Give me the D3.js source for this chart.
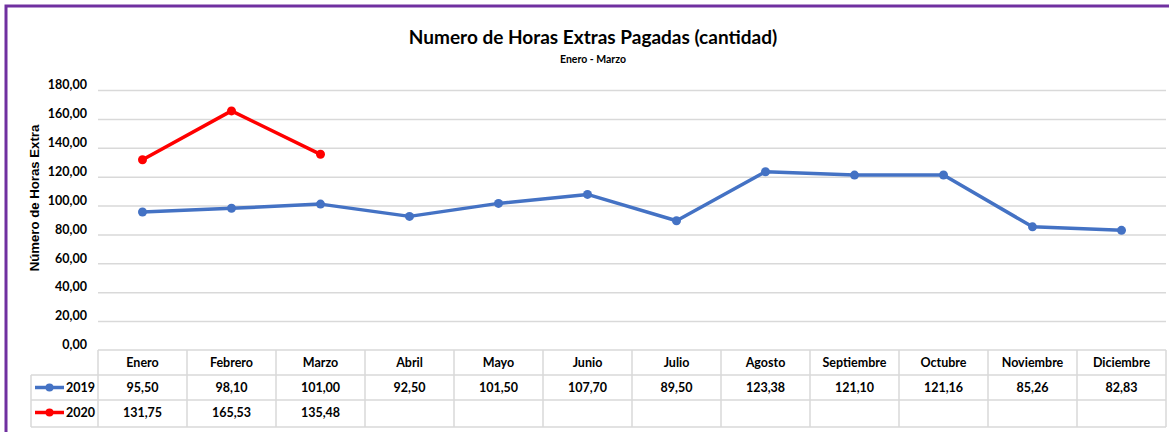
<!DOCTYPE html>
<html><head><meta charset="utf-8">
<script src="https://cdn.jsdelivr.net/npm/d3@7"></script>
<style>
html,body{margin:0;padding:0;background:#fff;}
svg{display:block;font-family:Lato,"Open Sans",sans-serif;}
</style></head>
<body><svg id="c" width="1169" height="432"></svg>
<script>
const months = ["Enero","Febrero","Marzo","Abril","Mayo","Junio","Julio","Agosto","Septiembre","Octubre","Noviembre","Diciembre"];
const values2019 = [95.50,98.10,101.00,92.50,101.50,107.70,89.50,123.38,121.10,121.16,85.26,82.83];
const values2020 = [131.75,165.53,135.48];
const yTicks = [0,20,40,60,80,100,120,140,160,180];
const seriesNames = ["2019","2020"];
const seriesColors = ["#4472C4","#FF0000"];

const svg = d3.select("#c");
const fmt = v => d3.format(".2f")(v).replace(".", ",");

// border
svg.append("rect").attr("x",6).attr("y",6).attr("width",1175).attr("height",440)
  .attr("fill","none").attr("stroke","#7030A0").attr("stroke-width",3);

const L = 98, R = 1166, T = 90, B = 350;
const x = d3.scaleBand().domain(months).range([L,R]);
const y = d3.scaleLinear().domain([0,180]).range([B,T]);

// title
svg.append("text").attr("x",593).attr("y",44).attr("text-anchor","middle")
  .attr("font-size",19).attr("font-weight","bold").attr("fill","#000")
  .text("Numero de Horas Extras Pagadas (cantidad)");
svg.append("text").attr("x",593).attr("y",63).attr("text-anchor","middle")
  .attr("font-size",10.5).attr("font-weight","bold").attr("fill","#000")
  .text("Enero - Marzo");

// gridlines
const yAxis = d3.axisLeft(y).tickValues(yTicks).tickSize(-(R-L)).tickFormat(fmt).tickPadding(11);
const gA = svg.append("g").attr("transform",`translate(${L},0)`).call(yAxis);
gA.select(".domain").remove();
gA.selectAll(".tick line").attr("stroke","#d9d9d9").attr("stroke-width",1.5);
gA.selectAll(".tick").filter(d=>d===0).select("line").remove();
gA.selectAll(".tick text").attr("font-size",12.5).attr("font-weight","bold").attr("fill","#000")
  .attr("font-family","Lato,'Open Sans',sans-serif").attr("dy","-0.1em");

// y title
svg.append("text").attr("transform",`translate(39,198) rotate(-90)`)
  .attr("text-anchor","middle").attr("font-size",13.2).attr("font-weight","bold").attr("fill","#000")
  .attr("font-family","'Liberation Sans',Arial,sans-serif")
  .text("Número de Horas Extra");

// lines
const cx = m => x(m) + x.bandwidth()/2;
const line = d3.line().x((d,i)=>cx(months[i])).y(d=>y(d));
[values2019, values2020].forEach((vals,si)=>{
  svg.append("path").datum(vals).attr("d",line).attr("fill","none")
    .attr("stroke",seriesColors[si]).attr("stroke-width",3.5).attr("stroke-linejoin","round");
  svg.selectAll(null).data(vals).enter().append("circle")
    .attr("cx",(d,i)=>cx(months[i])).attr("cy",d=>y(d)).attr("r",4.5).attr("fill",seriesColors[si]);
});

// data table
const gridC = "#d9d9d9";
const rowTop = [350,375,400,427];
const legL = 31;
const tbl = svg.append("g").attr("stroke",gridC).attr("stroke-width",1.5).attr("fill","none");
tbl.append("line").attr("x1",L).attr("x2",R).attr("y1",rowTop[0]).attr("y2",rowTop[0]);
[1,2,3].forEach(i=>tbl.append("line").attr("x1",legL).attr("x2",R).attr("y1",rowTop[i]).attr("y2",rowTop[i]));
tbl.append("line").attr("x1",legL).attr("x2",legL).attr("y1",rowTop[1]).attr("y2",rowTop[3]);
months.forEach(m=>tbl.append("line").attr("x1",x(m)).attr("x2",x(m)).attr("y1",rowTop[0]).attr("y2",rowTop[3]));
tbl.append("line").attr("x1",R).attr("x2",R).attr("y1",rowTop[0]).attr("y2",rowTop[3]);

const tt = svg.append("g").attr("font-size",12.5).attr("font-weight","bold").attr("fill","#000").attr("text-anchor","middle");
months.forEach(m=>tt.append("text").attr("x",cx(m)).attr("y",rowTop[0]+17).text(m));
[values2019, values2020].forEach((vals,si)=>{
  vals.forEach((v,i)=>tt.append("text").attr("x",cx(months[i])).attr("y",rowTop[si+1]+17).text(fmt(v)));
  const ly = rowTop[si+1]+12.5;
  svg.append("line").attr("x1",35).attr("x2",64).attr("y1",ly).attr("y2",ly)
    .attr("stroke",seriesColors[si]).attr("stroke-width",3.5);
  svg.append("circle").attr("cx",49.5).attr("cy",ly).attr("r",4).attr("fill",seriesColors[si]);
  svg.append("text").attr("x",66).attr("y",ly+4.5).attr("font-size",12.5).attr("font-weight","bold").attr("fill","#000")
    .text(seriesNames[si]);
});
</script></body></html>
